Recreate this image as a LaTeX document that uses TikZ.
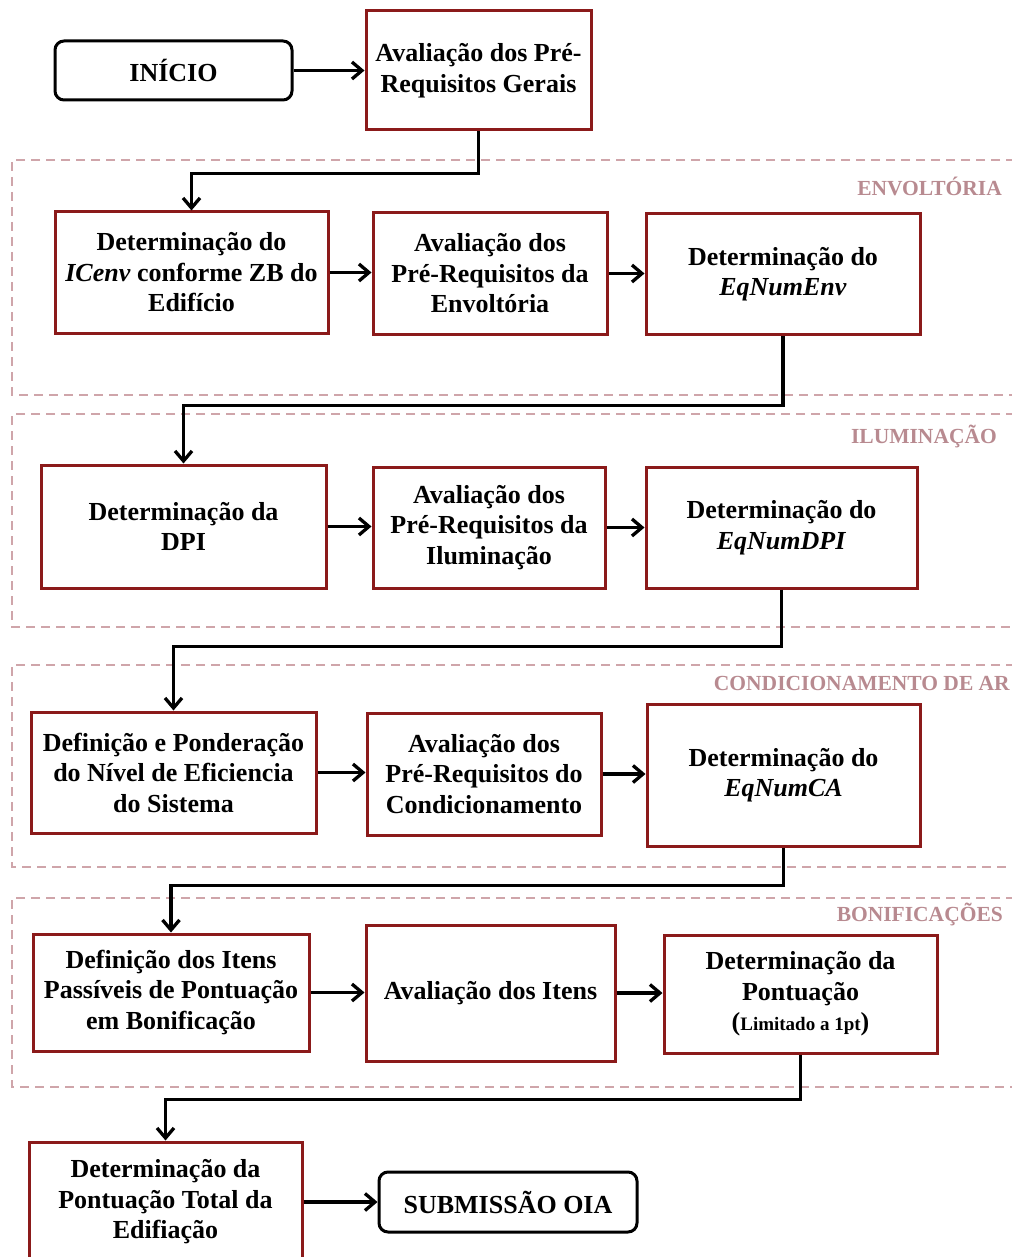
\documentclass[tikz,border=0pt]{standalone}
\usepackage{fontspec}
\setmainfont{Liberation Serif}
\usetikzlibrary{arrows.meta}
\definecolor{boxred}{HTML}{8B1A1A}
\definecolor{framec}{HTML}{CFA5AA}
\definecolor{labelc}{HTML}{B88A90}
\tikzset{
  rbox/.style={draw=boxred, line width=3pt, align=center, inner sep=0pt,
    font=\fontsize{26}{30.5}\selectfont\bfseries},
  tbox/.style={draw=black, line width=3pt, rounded corners=9pt, align=center, inner sep=0pt,
    font=\fontsize{26}{30.5}\selectfont\bfseries},
  arr/.style={draw=black, line width=3.3pt, -{Straight Barb[length=10pt,width=17pt,line width=3.3pt]}},
  frame/.style={draw=framec, line width=1.5pt, dash pattern=on 9pt off 6pt},
  seclabel/.style={text=labelc, anchor=east, inner sep=0pt, font=\fontsize{21.5}{24}\selectfont\bfseries},
}
\newcommand{\bx}[7]{% style, name, x1, y1, x2, y2, text
  \node[#1, minimum width=#5pt-#3pt, minimum height=#6pt-#4pt] (#2) at ({(#3+#5)/2},{(#4+#6)/2}) {#7};}
\begin{document}
\begin{tikzpicture}[x=1pt,y=-1pt]
\useasboundingbox (0,0) rectangle (1011,1257);
% frames
\draw[frame] (1015,160) -- (12,160) -- (12,395) -- (1015,395);
\draw[frame] (1015,414) -- (12,414) -- (12,627) -- (1015,627);
\draw[frame] (1015,665) -- (12,665) -- (12,867) -- (1015,867);
\draw[frame] (1015,898) -- (12,898) -- (12,1087) -- (1015,1087);
\node[seclabel] (l1) at (1002,186) {ENVOLTÓRIA};
\node[seclabel] (l2) at (997,436) {ILUMINAÇÃO};
\node[seclabel] (l3) at (1010,683) {CONDICIONAMENTO DE AR};
\node[seclabel] (l4) at (1003,914) {BONIFICAÇÕES};
% top
\bx{tbox}{ini}{55}{41}{292}{100}{INÍCIO}
\bx{rbox}{ger}{366}{11}{591}{130}{Avaliação dos Pré-\\Requisitos Gerais}
% row 1
\bx{rbox}{a}{55}{212}{328}{333}{Determinação do\\\textit{ICenv} conforme ZB do\\Edifício}
\bx{rbox}{b}{373}{213}{607}{334}{Avaliação dos\\Pré-Requisitos da\\Envoltória}
\bx{rbox}{c}{646}{214}{920}{334}{Determinação do\\\textit{EqNumEnv}}
% row 2
\bx{rbox}{d}{41}{465}{326}{588}{Determinação da\\DPI}
\bx{rbox}{e}{373}{467}{605}{588}{Avaliação dos\\Pré-Requisitos da\\Iluminação}
\bx{rbox}{f}{646}{467}{917}{588}{Determinação do\\\textit{EqNumDPI}}
% row 3
\bx{rbox}{g}{31}{712}{316}{833}{Definição e Ponderação\\do Nível de Eficiencia\\do Sistema}
\bx{rbox}{h}{367}{713}{601}{835}{Avaliação dos\\Pré-Requisitos do\\Condicionamento}
\bx{rbox}{i}{647}{704}{920}{846}{Determinação do\\\textit{EqNumCA}}
% row 4
\bx{rbox}{j}{33}{934}{309}{1051}{Definição dos Itens\\Passíveis de Pontuação\\em Bonificação}
\bx{rbox}{k}{366}{925}{615}{1061}{Avaliação dos Itens}
\bx{rbox}{l}{664}{935}{937}{1053}{Determinação da\\Pontuação\\{\fontsize{26}{30}\selectfont(}{\fontsize{19}{30}\selectfont Limitado a 1pt}{\fontsize{26}{30}\selectfont)}}
% bottom
\bx{rbox}{m}{29}{1142}{302}{1262}{Determinação da\\Pontuação Total da\\Edifiação}
\bx{tbox}{sub}{379}{1172}{637}{1232}{SUBMISSÃO OIA}
% arrows
\draw[arr] (ini.east) -- (ini.east -| ger.west);
\draw[arr] (ger.south) -- ++(0,42) -| (a.north);
\draw[arr] (a.east) -- (a.east -| b.west);
\draw[arr] (b.east) -- (b.east -| c.west);
\draw[arr] (c.south) -- ++(0,70) -| (d.north);
\draw[arr] (d.east) -- (d.east -| e.west);
\draw[arr] (e.east) -- (e.east -| f.west);
\draw[arr] (f.south) -- ++(0,57) -| (g.north);
\draw[arr] (g.east) -- (g.east -| h.west);
\draw[arr] (h.east) -- (h.east -| i.west);
\draw[arr] (i.south) -- ++(0,38) -| (j.north);
\draw[arr] (j.east) -- (j.east -| k.west);
\draw[arr] (k.east) -- (k.east -| l.west);
\draw[arr] (l.south) -- ++(0,45) -| (m.north);
\draw[arr] (m.east) -- (m.east -| sub.west);
\end{tikzpicture}
\end{document}
